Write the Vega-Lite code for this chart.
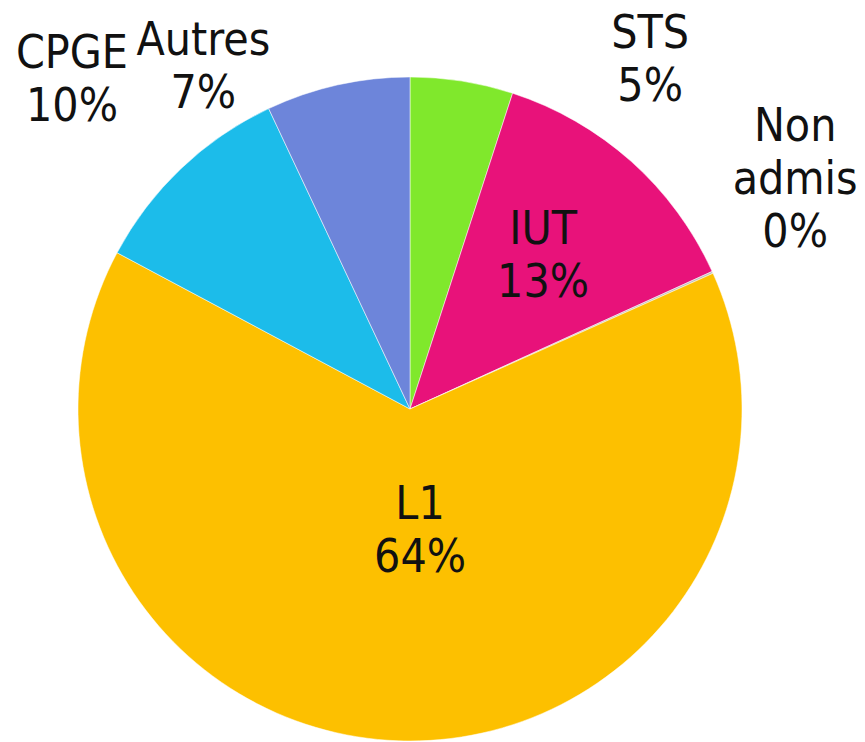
{
  "$schema": "https://vega.github.io/schema/vega-lite/v6.json",
  "width": 820,
  "height": 666,
  "autosize": {"type": "none"},
  "padding": {"left": 0, "top": 76, "right": 45, "bottom": 0},
  "background": "white",
  "config": {"view": {"stroke": null}, "text": {"font": "DejaVu Sans Condensed", "fontSize": 46, "lineHeight": 53, "fill": "#111111"}},
  "data": {"values": [
    {"cat": "STS", "value": 5.0, "label": "STS\n5%"},
    {"cat": "IUT", "value": 13.2, "label": "IUT\n13%"},
    {"cat": "Non admis", "value": 0.1, "label": "Non\nadmis\n0%"},
    {"cat": "L1", "value": 64.5, "label": "L1\n64%"},
    {"cat": "CPGE", "value": 10.2, "label": "CPGE\n10%"},
    {"cat": "Autres", "value": 7.0, "label": "Autres\n7%"}
  ]},
  "transform": [{"window": [{"op": "row_number", "as": "i"}]}],
  "encoding": {
    "theta": {"field": "value", "type": "quantitative", "stack": true},
    "order": {"field": "i", "type": "quantitative"}
  },
  "layer": [
    {
      "mark": {"type": "arc", "outerRadius": 332, "stroke": "#ffffff", "strokeOpacity": 0.5, "strokeWidth": 1},
      "encoding": {
        "color": {"field": "cat", "type": "nominal", "legend": null,
          "scale": {"domain": ["STS", "IUT", "Non admis", "L1", "CPGE", "Autres"],
                    "range": ["#80E82C", "#E8127A", "#C0C0C0", "#FDC000", "#1CBCEA", "#6D85DA"]}}
      }
    },
    {"mark": {"type": "text", "radius": 424, "thetaOffset": 0.445, "dy": -26, "lineBreak": "\n", "baseline": "middle", "align": "center"},
     "encoding": {"text": {"condition": {"test": "datum.cat === 'STS'", "field": "label"}, "value": ""}}},
    {"mark": {"type": "text", "radius": 203, "thetaOffset": -0.014, "dy": -26, "lineBreak": "\n", "baseline": "middle", "align": "center"},
     "encoding": {"text": {"condition": {"test": "datum.cat === 'IUT'", "field": "label"}, "value": ""}}},
    {"mark": {"type": "text", "radius": 448, "thetaOffset": -0.112, "dy": -53, "lineBreak": "\n", "baseline": "middle", "align": "center"},
     "encoding": {"text": {"condition": {"test": "datum.cat === 'Non admis'", "field": "label"}, "value": ""}}},
    {"mark": {"type": "text", "radius": 122, "thetaOffset": -0.117, "dy": -26, "lineBreak": "\n", "baseline": "middle", "align": "center"},
     "encoding": {"text": {"condition": {"test": "datum.cat === 'L1'", "field": "label"}, "value": ""}}},
    {"mark": {"type": "text", "radius": 472, "thetaOffset": -0.038, "dy": -26, "lineBreak": "\n", "baseline": "middle", "align": "center"},
     "encoding": {"text": {"condition": {"test": "datum.cat === 'CPGE'", "field": "label"}, "value": ""}}},
    {"mark": {"type": "text", "radius": 400, "thetaOffset": -0.323, "dy": -26, "lineBreak": "\n", "baseline": "middle", "align": "center"},
     "encoding": {"text": {"condition": {"test": "datum.cat === 'Autres'", "field": "label"}, "value": ""}}}
  ]
}
